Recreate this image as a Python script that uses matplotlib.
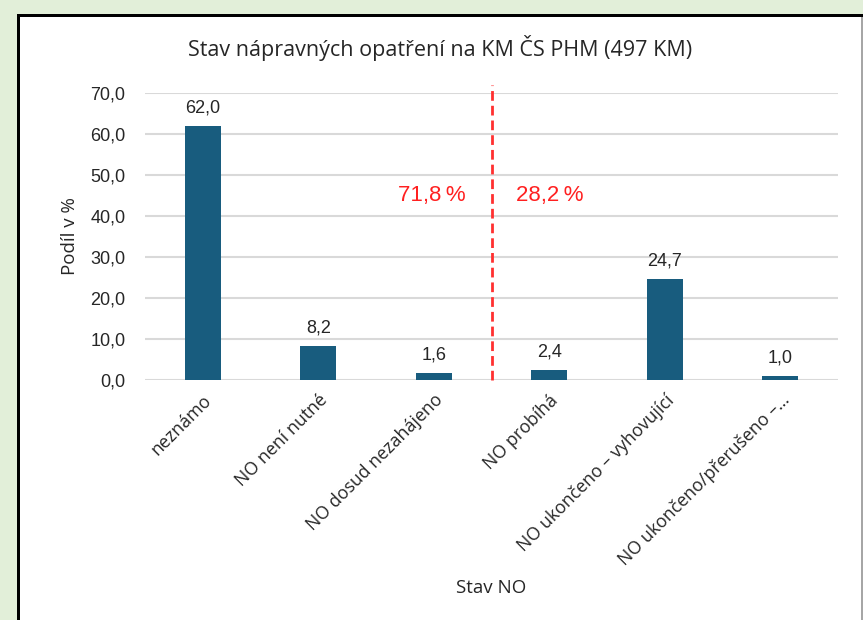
import matplotlib.pyplot as plt
from matplotlib.patches import Rectangle

# Data
categories = ['neznámo', 'NO není nutné', 'NO dosud nezahájeno', 'NO probíhá',
              'NO ukončeno – vyhovující', 'NO ukončeno/přerušeno –…']
values = [62.0, 8.2, 1.6, 2.4, 24.7, 1.0]
value_labels = ['62,0', '8,2', '1,6', '2,4', '24,7', '1,0']
yticks = [0, 10, 20, 30, 40, 50, 60, 70]
ytick_labels = ['0,0', '10,0', '20,0', '30,0', '40,0', '50,0', '60,0', '70,0']
split_left = '71,8\u2009%'
split_right = '28,2\u2009%'

num_font = ['Liberation Sans', 'DejaVu Sans']
txt_font = ['Open Sans', 'DejaVu Sans']

fig = plt.figure(figsize=(8.63, 6.2), dpi=100, facecolor='#e2efd9')

# white chart box with dark border (left/top) like the screenshot
W, H = 863, 620
fig.patches.append(Rectangle((18 / W, 0), 845 / W, 606 / H, transform=fig.transFigure,
                             facecolor='white', edgecolor='none', zorder=-2))
fig.patches.append(Rectangle((17 / W, 0), 3 / W, 606 / H, transform=fig.transFigure,
                             facecolor='black', edgecolor='none', zorder=-1))
fig.patches.append(Rectangle((17 / W, 603 / H), 846 / W, 3 / H, transform=fig.transFigure,
                             facecolor='black', edgecolor='none', zorder=-1))
fig.patches.append(Rectangle((861 / W, 0), 2 / W, 603 / H, transform=fig.transFigure,
                             facecolor='#a6a6a6', edgecolor='none', zorder=-1))

ax = fig.add_axes([145 / W, 1 - 380 / H, 693 / W, 287 / H])
ax.set_facecolor('none')
ax.set_zorder(2)

x = list(range(len(categories)))
ax.bar(x, values, width=0.31, color='#185c7e', zorder=3)
ax.set_xlim(-0.5, len(categories) - 0.5)
ax.set_ylim(0, 70)

for xi, v, lab in zip(x, values, value_labels):
    ax.annotate(lab, (xi, v), xytext=(0, 7), textcoords='offset points',
                ha='center', va='bottom', fontsize=13, family=num_font, color='#262626')

ax.set_yticks(yticks)
ax.set_yticklabels(ytick_labels, family=num_font, fontsize=13, color='#262626')
ax.set_xticks(x)
ax.set_xticklabels(categories, rotation=45, ha='right', rotation_mode='anchor',
                   family=txt_font, fontsize=12.8, color='#262626')
ax.tick_params(length=0)
ax.tick_params(axis='y', pad=14)
ax.tick_params(axis='x', pad=8)
ax.grid(axis='y', color='#d9d9d9', linewidth=1.5, zorder=0)
for s in ax.spines.values():
    s.set_visible(False)

# dividing line between the two groups
ax.plot([2.5, 2.5], [0, 72], color='#ff3030', linestyle=(0, (3.5, 1.8)), linewidth=2,
        clip_on=False, zorder=4)
ax.text(1.98, 45, split_left, ha='center', va='center', color='#ff2020',
        fontsize=16, family=num_font)
ax.text(3.0, 45, split_right, ha='center', va='center', color='#ff2020',
        fontsize=16, family=num_font)

fig.text(440 / W, 1 - 48 / H, 'Stav nápravných opatření na KM ČS PHM (497 KM)',
         ha='center', va='center', family=txt_font, fontsize=15.5, color='#262626')
ax.set_ylabel('Podíl v %', family=txt_font, fontsize=13.5, color='#262626', labelpad=8)
fig.text(491 / W, 1 - 588 / H, 'Stav NO', ha='center', va='center',
         family=txt_font, fontsize=13.5, color='#262626')

fig.savefig('out.png', dpi=100, facecolor=fig.get_facecolor())
